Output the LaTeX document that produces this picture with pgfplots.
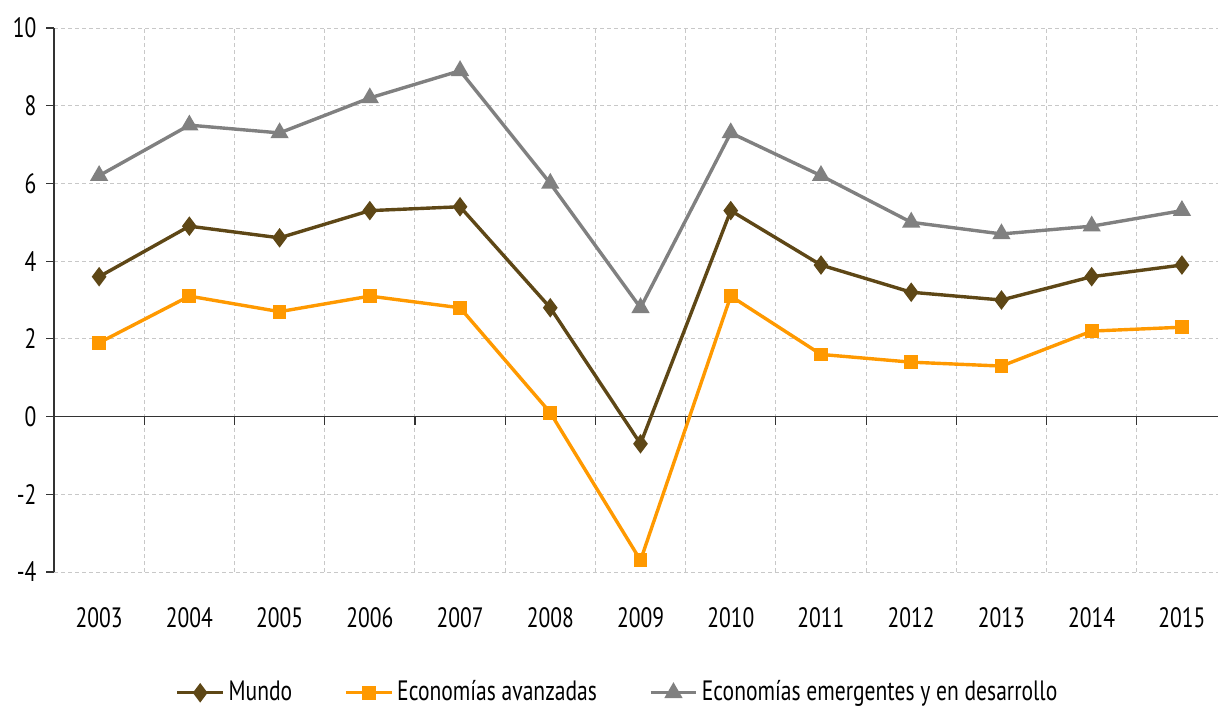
\documentclass[border=0pt]{standalone}
\usepackage{pgfplots}
\pgfplotsset{compat=1.18}
\usepackage{fontspec}
\setmainfont{PT Sans}[FakeStretch=0.77]
\definecolor{mundo}{HTML}{5E4716}
\definecolor{avanz}{HTML}{FF9900}
\definecolor{emerg}{HTML}{808080}
\definecolor{gridc}{HTML}{C8C8C8}

\begin{document}
\fontsize{14}{17}\selectfont
\begin{tikzpicture}
    \begin{axis}[
            scale only axis,
            width=582pt,
            height=272pt,
            xmin=-0.5, xmax=12.4,
            ymin=-4, ymax=10,
            ytick={-4,-2,...,10},
            xtick={0,...,12},
            xticklabels={2003,2004,2005,2006,2007,2008,2009,2010,2011,2012,2013,2014,2015},
            minor xtick={0.5,1.5,...,11.5},
            axis y line*=left,
            axis x line*=bottom,
            x axis line style={draw=none},
            y axis line style={black!80, line width=0.6pt},
            ymajorgrids,
            xminorgrids,
            major grid style={gridc, dash pattern=on 2pt off 1.5pt, line width=0.5pt},
            minor grid style={gridc, dash pattern=on 2pt off 1.5pt, line width=0.5pt},
            major x tick style={draw=none},
            minor x tick style={draw=none},
            ytick style={black!80, line width=0.6pt},
            tick align=outside,
            major tick length=4pt,
            xticklabel style={anchor=center, yshift=-19pt},
            /pgf/number format/assume math mode=true,
            tick label style={font=\fontsize{14}{17}\selectfont},
            clip=false,
            legend style={at={(0.485,-0.222)}, anchor=center, draw=none,
                legend columns=-1, font=\fontsize{14}{17}\selectfont,
                /tikz/every even column/.append style={column sep=24pt}},
            legend image code/.code={
                \draw[mark repeat=2, mark phase=2, #1] plot coordinates {(0cm,0cm) (0.4cm,0cm) (0.8cm,0cm)};
            },
        ]
        \coordinate (bl) at (rel axis cs:0,0);
        \coordinate (tr) at (rel axis cs:1,1);
        % zero line with ticks at category boundaries
        \draw[black!80, line width=0.6pt] (axis cs:-0.5,0) -- (axis cs:12.4,0);
        \pgfplotsinvokeforeach{0.5,1.5,2.5,3.5,4.5,5.5,6.5,7.5,8.5,9.5,10.5,11.5}{
            \draw[black!80, line width=0.6pt] (axis cs:#1,0) -- ++(0pt,-4pt);
        }

        \addplot[mundo, line width=1.7pt, mark=diamond*, mark size=3.5pt] coordinates {
            (0,3.6) (1,4.9) (2,4.6) (3,5.3) (4,5.4) (5,2.8) (6,-0.7)
            (7,5.3) (8,3.9) (9,3.2) (10,3.0) (11,3.6) (12,3.9)};
        \addplot[avanz, line width=1.7pt, mark=square*, mark size=2.6pt] coordinates {
            (0,1.9) (1,3.1) (2,2.7) (3,3.1) (4,2.8) (5,0.1) (6,-3.7)
            (7,3.1) (8,1.6) (9,1.4) (10,1.3) (11,2.2) (12,2.3)};
        \addplot[emerg, line width=1.7pt, mark=triangle*, mark size=3.6pt] coordinates {
            (0,6.2) (1,7.5) (2,7.3) (3,8.2) (4,8.9) (5,6.0) (6,2.8)
            (7,7.3) (8,6.2) (9,5.0) (10,4.7) (11,4.9) (12,5.3)};

        \legend{Mundo, Economías avanzadas, Economías emergentes y en desarrollo}
    \end{axis}
    \pgfresetboundingbox
    \path ([xshift=-27pt,yshift=-68pt]bl) rectangle ([yshift=14pt]tr);
\end{tikzpicture}
\end{document}
